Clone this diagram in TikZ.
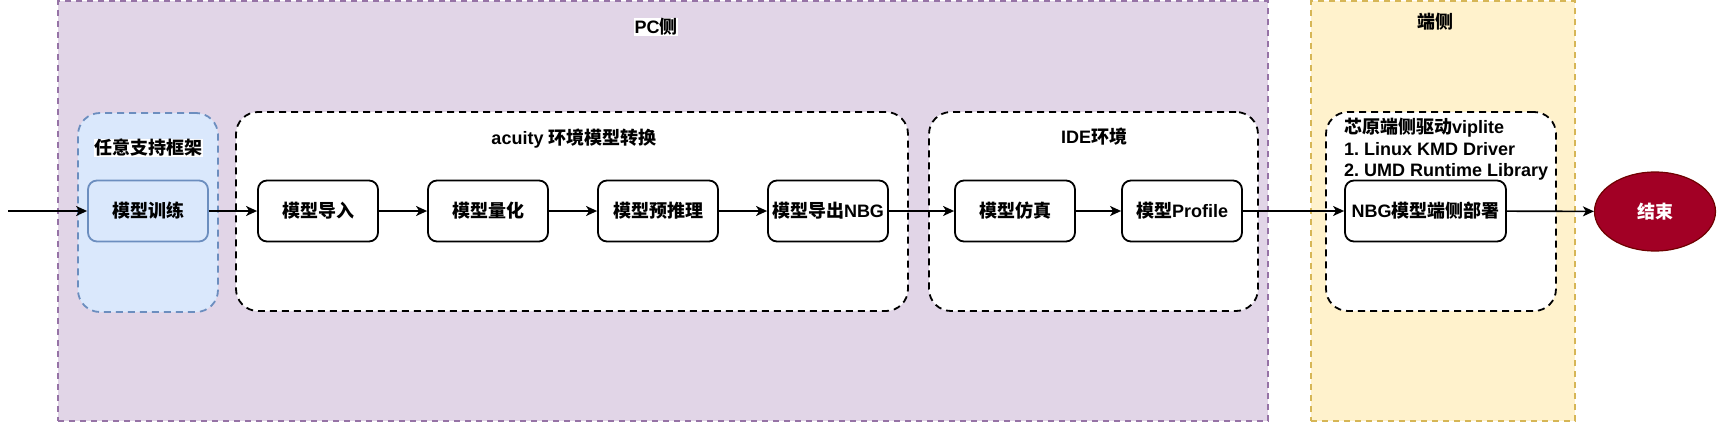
\documentclass[tikz,border=0pt]{standalone}
\usepackage{fontspec}
\setmainfont{Liberation Sans}
\newfontfamily\cjk{Noto Sans CJK SC}
\usetikzlibrary{arrows.meta,shapes.geometric}
\newcommand\zh[1]{{\cjk #1}}
\frenchspacing
\definecolor{pcfill}{HTML}{E1D5E7}
\definecolor{pcline}{HTML}{9673A6}
\definecolor{devfill}{HTML}{FFF2CC}
\definecolor{devline}{HTML}{D6B656}
\definecolor{bluefill}{HTML}{DAE8FC}
\definecolor{blueline}{HTML}{6C8EBF}
\definecolor{endfill}{HTML}{A20025}
\definecolor{endline}{HTML}{6F0000}
\tikzset{
  txt/.style={font=\fontsize{18}{21.6}\selectfont\bfseries},
  zone/.style={draw, dash pattern=on 6pt off 5pt, line width=1.4pt, inner sep=0pt},
  group/.style={draw=black, fill=white, dash pattern=on 7pt off 5pt, line width=1.8pt, rounded corners=22pt, inner sep=0pt},
  stepbox/.style={draw=black, fill=white, line width=1.8pt, rounded corners=9pt, minimum width=120pt, minimum height=61pt, inner sep=0pt, txt},
  flow/.style={-{Stealth[length=11pt,width=10pt,inset=3pt]}, line width=1.6pt},
}
\begin{document}
\begin{tikzpicture}[x=1pt,y=-1pt]
\useasboundingbox (0,0) rectangle (1717,423);
% zones
\node[zone, draw=pcline, fill=pcfill, minimum width=1210pt, minimum height=420pt] (pc) at (663,211) {};
\node[zone, draw=devline, fill=devfill, minimum width=264pt, minimum height=420pt] (dev) at (1443,211) {};
\node[txt, fill=white, inner sep=0.5pt] (pclabel) at (656,27) {PC\zh{侧}};
\node[txt, inner sep=0pt] (devlabel) at (1435,22) {\zh{端侧}};
% groups
\node[group, draw=blueline, fill=bluefill, minimum width=140pt, minimum height=199pt] (fw) at (148,212.5) {};
\node[group, minimum width=672pt, minimum height=199pt] (acuity) at (572,211.5) {};
\node[group, minimum width=329pt, minimum height=199pt] (ide) at (1093.5,211.5) {};
\node[group, minimum width=230pt, minimum height=199pt] (drv) at (1441,211.5) {};
\node[txt, fill=white, inner sep=0.5pt] (fwlabel) at (148,148) {\zh{任意支持框架}};
\node[txt, inner sep=0pt] (acuitylabel) at (574,139) {acuity \zh{环境模型转换}};
\node[txt, inner sep=0pt] (idelabel) at (1094,137) {IDE\zh{环境}};
\node[txt, anchor=north west, align=left, inner sep=0pt] (drvlabel) at (1344,118) {\zh{芯原端侧驱动}viplite\\1. Linux KMD Driver\\2. UMD Runtime Library};
% steps
\coordinate (start) at (8,211);
\node[stepbox, draw=blueline, fill=bluefill] (train) at (148,211) {\zh{模型训练}};
\node[stepbox] (import) at (318,211) {\zh{模型导入}};
\node[stepbox] (quant) at (488,211) {\zh{模型量化}};
\node[stepbox] (infer) at (658,211) {\zh{模型预推理}};
\node[stepbox] (export) at (828,211) {\zh{模型导出}NBG};
\node[stepbox] (sim) at (1015,211) {\zh{模型仿真}};
\node[stepbox] (prof) at (1182,211) {\zh{模型}Profile};
\node[stepbox, minimum width=161pt] (deploy) at (1425.5,211) {NBG\zh{模型端侧部署}};
\node[ellipse, draw=endline, fill=endfill, line width=1.2pt, minimum width=121pt, minimum height=79pt, inner sep=0pt, txt, text=white] (end) at (1655,211.5) {\zh{结束}};
% connectors
\draw[flow] (start) -- (train);
\draw[flow] (train) -- (import);
\draw[flow] (import) -- (quant);
\draw[flow] (quant) -- (infer);
\draw[flow] (infer) -- (export);
\draw[flow] (export) -- (sim);
\draw[flow] (sim) -- (prof);
\draw[flow] (prof) -- (deploy);
\draw[flow] (deploy) -- (end);
\end{tikzpicture}
\end{document}
